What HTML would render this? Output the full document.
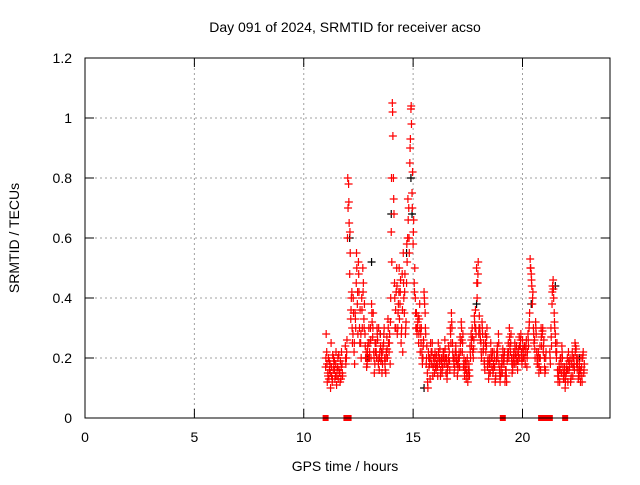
<!DOCTYPE html>
<html><head><meta charset="utf-8"><style>
body{margin:0;background:#fff}
svg text{font-family:"Liberation Sans",sans-serif;font-size:14px;fill:#000}
</style></head><body>
<svg id="c" width="640" height="480" xmlns="http://www.w3.org/2000/svg">
<text x="345" y="32" text-anchor="middle">Day 091 of 2024, SRMTID for receiver acso</text>
<text x="345" y="471" text-anchor="middle">GPS time / hours</text>
<text transform="translate(19,238) rotate(-90)" text-anchor="middle">SRMTID / TECUs</text>
<g id="grid"></g>
<g id="ticks"></g>
<g id="marks"></g>
<rect x="85" y="58" width="525" height="360" fill="none" stroke="#000" stroke-width="1"/>
</svg>
<script>
const xTicks=[0,5,10,15,20];
const yTicks=[0,0.2,0.4,0.6,0.8,1,1.2];
const yTickLabels=["0","0.2","0.4","0.6","0.8","1","1.2"];
const tStart=11.0, tStep=0.05;
const valsA=[0.17,0.22,0.15,0.13,0.18,0.25,0.12,0.16,0.19,0.14,0.11,0.17,0.21,0.15,0.13,0.18,null,null,0.24,0.2,
0.6,0.78,0.48,0.33,0.42,0.28,0.22,0.35,0.45,0.38,0.52,0.3,0.25,0.4,0.5,0.33,0.28,0.22,0.18,0.25,
0.2,0.3,0.38,0.27,0.22,0.18,0.25,0.3,0.2,0.16,0.28,0.22,0.18,0.25,0.2,0.15,0.27,0.33,0.22,0.18,
0.62,1.05,0.8,0.45,0.36,0.5,0.3,0.42,0.38,0.25,0.48,0.55,0.35,0.28,0.45,0.6,0.7,0.85,1.03,0.75,
0.58,0.45,0.4,0.35,0.3,0.25,0.38,0.28,0.22,0.2,0.42,0.35,0.18,0.15,0.22,0.2,0.25,0.18,0.14,0.2,
0.22,0.16,0.19,0.25,0.18,0.14,0.2,0.17,0.22,0.26,0.15,0.13,0.18,0.22,0.3,0.35,0.25,0.2,0.17,0.24,
0.2,0.16,0.22,0.27,0.32,0.22,0.17,0.14,0.19,0.15,0.12,0.18,0.24,0.28,0.3,0.2,0.34,0.36,0.5,0.45,
0.28,0.3,0.25,0.32,0.22,0.19,0.28,0.24,0.17,0.13,0.2,0.25,0.17,0.15,0.22,0.12,0.19,0.24,0.28,0.16,
0.14,0.2,0.23,0.18,0.12,0.16,0.19,0.25,0.3,0.22,0.2,0.16,0.22,0.25,0.18,0.22,0.19,0.27,0.24,0.22,
0.26,0.2,0.24,0.22,0.17,0.28,0.3,0.53,0.48,0.38,0.3,0.26,0.32,0.22,0.18,0.15,0.24,0.3,0.28,0.22,
0.2,0.16,null,null,null,0.22,0.3,0.38,0.46,0.35,0.28,0.2,0.16,0.14,0.12,0.2,0.24,0.17,0.13,0.1,
0.15,0.2,0.22,0.17,0.12,0.18,0.14,0.2,0.25,0.23,0.16,0.13,0.18,0.12,0.17,0.2,0.15];
const valsB=[0.28,0.12,0.2,0.16,0.1,0.14,0.21,0.18,0.13,0.22,0.16,0.13,0.15,0.19,0.22,0.14,null,null,0.18,0.26,
0.7,0.65,0.55,0.4,0.25,0.35,0.18,0.3,0.5,0.28,0.42,0.36,0.2,0.3,0.45,0.38,0.2,0.17,0.24,0.3,
0.25,0.2,0.32,0.35,0.15,0.22,0.2,0.26,0.3,0.22,0.19,0.15,0.24,0.3,0.16,0.22,0.2,0.25,0.28,0.4,
0.52,0.94,0.68,0.3,0.42,0.28,0.38,0.33,0.46,0.3,0.22,0.4,0.48,0.32,0.52,0.66,0.55,0.93,0.98,0.82,
0.66,0.5,0.3,0.28,0.34,0.33,0.22,0.3,0.18,0.26,0.38,0.28,0.24,0.1,0.17,0.13,0.22,0.25,0.2,0.15,
0.17,0.21,0.14,0.2,0.23,0.19,0.15,0.22,0.18,0.2,0.2,0.17,0.24,0.16,0.25,0.3,0.2,0.15,0.22,0.19,
0.14,0.2,0.17,0.22,0.26,0.28,0.2,0.18,0.13,0.2,0.16,0.14,0.2,0.24,0.22,0.26,0.3,0.28,0.4,0.52,
0.34,0.26,0.2,0.28,0.25,0.16,0.22,0.3,0.2,0.18,0.15,0.2,0.22,0.18,0.17,0.14,0.22,0.2,0.18,0.12,
0.17,0.15,0.19,0.22,0.16,0.12,0.22,0.2,0.24,0.28,0.15,0.2,0.18,0.21,0.24,0.16,0.23,0.2,0.28,0.18,
0.2,0.24,0.18,0.26,0.22,0.24,0.35,0.5,0.44,0.42,0.25,0.2,0.28,0.18,0.22,0.2,0.16,0.24,0.3,0.26,
0.15,0.22,null,null,null,0.18,0.24,0.44,0.4,0.3,0.22,0.25,0.12,0.18,0.2,0.15,0.2,0.13,0.17,0.14,
0.18,0.12,0.16,0.2,0.14,0.22,0.2,0.16,0.24,0.18,0.2,0.16,0.14,0.2,0.12,0.22,0.18];
const valsC=[0.2,0.18,0.14,0.19,0.15,0.17,0.13,0.2,0.16,0.18,0.14,0.2,0.16,0.12,0.17,0.15,null,null,0.2,0.22,
0.8,0.72,0.62,0.36,0.3,0.4,0.25,0.33,0.55,0.42,0.48,0.25,0.28,0.36,0.42,0.3,0.24,0.2,0.22,0.2,
0.22,0.26,0.35,0.3,0.2,0.25,0.22,0.28,0.18,0.2,0.24,0.2,0.22,0.28,0.18,0.2,0.23,0.3,0.25,0.32,
0.8,1.02,0.73,0.4,0.3,0.44,0.35,0.5,0.42,0.28,0.36,0.45,0.42,0.3,0.58,0.73,0.6,0.9,1.04,0.7,
0.62,0.42,0.35,0.3,0.32,0.28,0.3,0.25,0.2,0.24,0.4,0.3,0.2,0.12,0.2,0.18,0.2,0.22,0.17,0.18,
0.2,0.18,0.17,0.22,0.2,0.16,0.18,0.2,0.2,0.23,0.18,0.15,0.2,0.19,0.28,0.32,0.22,0.18,0.2,0.22,
0.18,0.18,0.2,0.25,0.3,0.25,0.18,0.16,0.16,0.18,0.14,0.16,0.22,0.26,0.27,0.23,0.32,0.3,0.45,0.48,
0.3,0.28,0.22,0.3,0.23,0.18,0.25,0.27,0.19,0.15,0.18,0.22,0.2,0.16,0.2,0.13,0.2,0.22,0.25,0.14,
0.15,0.18,0.21,0.2,0.14,0.14,0.2,0.22,0.27,0.25,0.18,0.18,0.2,0.23,0.2,0.19,0.21,0.24,0.26,0.2,
0.23,0.22,0.2,0.24,0.2,0.26,0.32,0.5,0.46,0.4,0.28,0.23,0.3,0.2,0.2,0.17,0.2,0.27,0.29,0.24,
0.17,0.2,null,null,null,0.2,0.27,0.42,0.43,0.32,0.25,0.22,0.14,0.16,0.16,0.18,0.22,0.15,0.15,0.12,
0.16,0.16,0.19,0.18,0.13,0.2,0.17,0.18,0.22,0.2,0.18,0.14,0.16,0.16,0.14,0.21,0.16];
const blackTimes=[12.1,12.9,13.1,13.5,14.0,14.7,14.9,14.95,15.5,17.9,20.4,21.5,22.6];
const blackVals=[0.6,0.2,0.52,0.28,0.68,0.55,0.8,0.68,0.1,0.38,0.38,0.44,0.2];
const zeroTimes=[11.0,11.95,12.0,12.05,19.1,20.85,20.95,21.05,21.15,21.25,21.95];

const X=t=>85+t*(525/24), Y=v=>418-v*300;
const NS="http://www.w3.org/2000/svg";
const mk=(tag,a,parent)=>{const e=document.createElementNS(NS,tag);for(const k in a)e.setAttribute(k,a[k]);parent.appendChild(e);return e;};
const grid=document.getElementById('grid'),ticks=document.getElementById('ticks'),marks=document.getElementById('marks');
yTicks.forEach((v,i)=>{
  if(v>0&&v<1.2){const l=mk('line',{x1:85,x2:610,y1:Y(v),y2:Y(v),stroke:'#a0a0a0','stroke-dasharray':'2,3'},grid);
  
  }
  mk('line',{x1:85,x2:94,y1:Y(v),y2:Y(v),stroke:'#000'},ticks);
  mk('line',{x1:601,x2:610,y1:Y(v),y2:Y(v),stroke:'#000'},ticks);
  const t=mk('text',{x:72,y:Y(v)+5,'text-anchor':'end'},ticks);t.textContent=yTickLabels[i];
  
  
});
xTicks.forEach(v=>{
  if(v>0){const l=mk('line',{x1:X(v),x2:X(v),y1:58,y2:418,stroke:'#a0a0a0','stroke-dasharray':'2,3'},grid);
  
  }
  mk('line',{x1:X(v),x2:X(v),y1:409,y2:418,stroke:'#000'},ticks);
  mk('line',{x1:X(v),x2:X(v),y1:58,y2:67,stroke:'#000'},ticks);
  const t=mk('text',{x:X(v),y:442,'text-anchor':'middle'},ticks);t.textContent=String(v);
  
  
});
function plus(t,v,c){const x=X(t),y=Y(v);
  const p=mk('path',{d:`M${x-4} ${y}H${x+4}M${x} ${y-4}V${y+4}`,stroke:c,'stroke-width':1.2,fill:'none'},marks);
  
  }
blackTimes.forEach((t,i)=>plus(t,blackVals[i],'#000'));
valsA.forEach((v,i)=>{if(v!==null)plus(tStart+i*tStep,v,'#f00');});
valsB.forEach((v,i)=>{if(v!==null)plus(tStart+i*tStep+0.025,v,'#f00');});
valsC.forEach((v,i)=>{if(v!==null)plus(tStart+i*tStep+0.012,v,'#f00');});
zeroTimes.forEach(t=>{const r=mk('rect',{x:X(t)-3,y:415,width:6,height:6,fill:'#f00'},marks);
  
  });
</script>
</body></html>
